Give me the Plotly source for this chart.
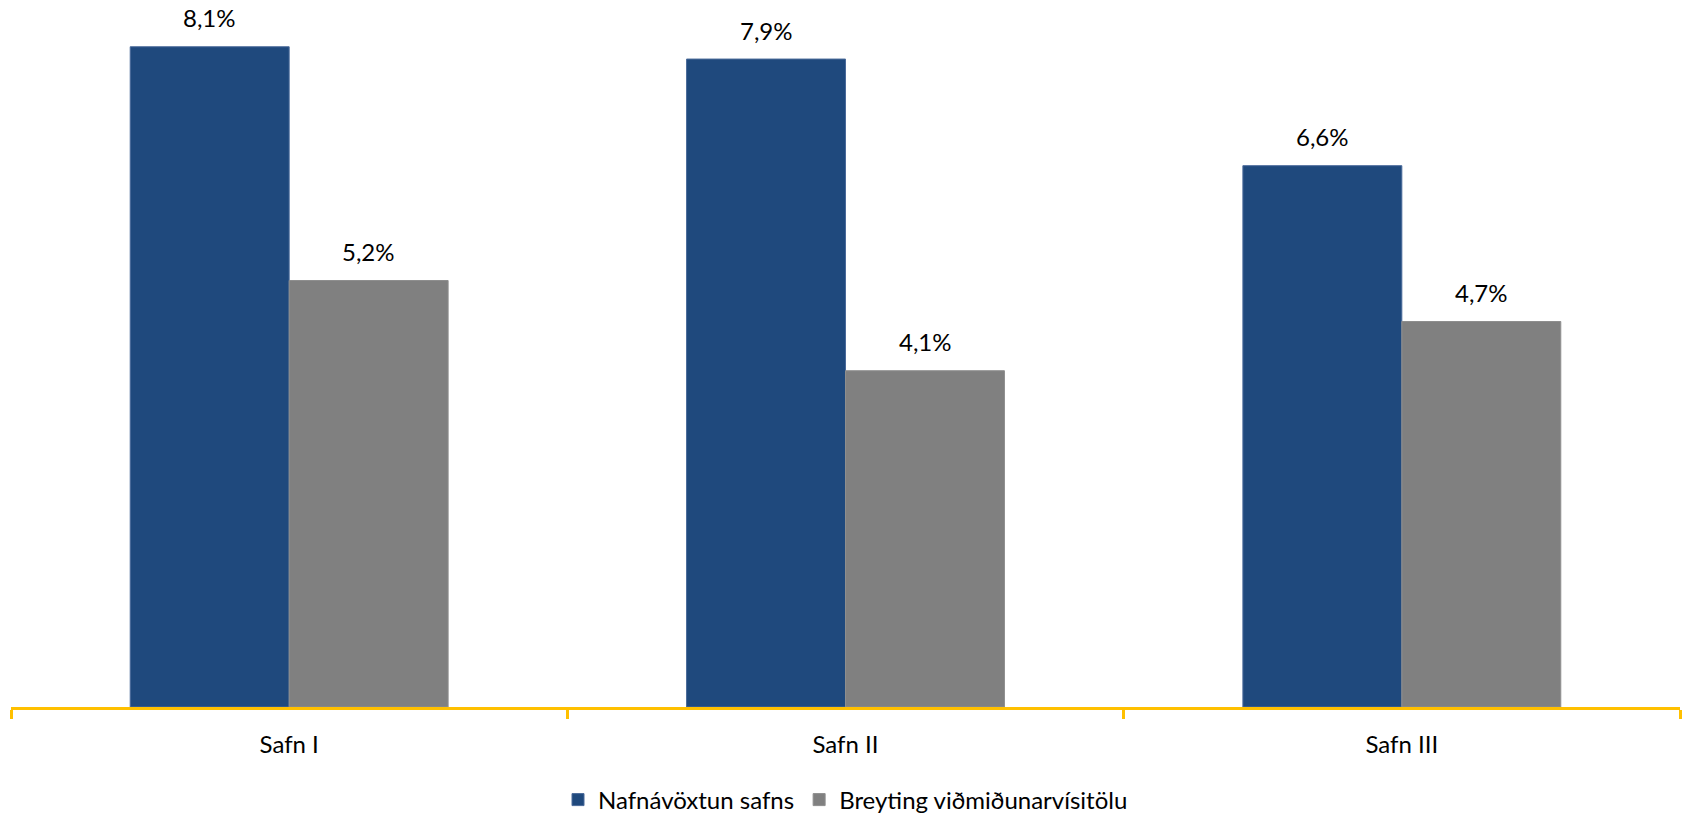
import plotly.graph_objects as go

categories = ["Safn I", "Safn II", "Safn III"]
nafnavoxtun = [8.05, 7.9, 6.6]
breyting = [5.2, 4.1, 4.7]
series_names = ["Nafnávöxtun safns", "Breyting viðmiðunarvísitölu"]

FONT = "Lato"
BLUE = "#1F497D"
GREY = "#808080"
GOLD = "#FFC000"

fig = go.Figure()
fig.add_trace(go.Bar(x=categories, y=nafnavoxtun, name=series_names[0],
                     marker=dict(color=BLUE, line=dict(color="#4A6A9A", width=1))))
fig.add_trace(go.Bar(x=categories, y=breyting, name=series_names[1],
                     marker=dict(color=GREY, line=dict(color="#8E8E8E", width=1))))

def fmt(v):
    return f"{round(v + 1e-9, 1):.1f}".replace(".", ",") + "%"

for c, v in zip(categories, nafnavoxtun):
    fig.add_annotation(x=c, y=v, text=fmt(v), showarrow=False, xshift=-79.5,
                       yshift=29, font=dict(family=FONT, size=24, color="#000"))
for c, v in zip(categories, breyting):
    fig.add_annotation(x=c, y=v, text=fmt(v), showarrow=False, xshift=79.5,
                       yshift=29, font=dict(family=FONT, size=24, color="#000"))

fig.update_layout(
    width=1685, height=813,
    margin=dict(l=11, r=5, t=0, b=106, autoexpand=False),
    paper_bgcolor="white", plot_bgcolor="white",
    barmode="group", bargap=1.5/3.5, bargroupgap=0,
    font=dict(family=FONT, size=24, color="#000"),
    showlegend=True,
    legend=dict(orientation="h", x=0.5, xanchor="center", yref="container",
                y=(813 - 800) / 813, yanchor="middle",
                font=dict(family=FONT, size=24), traceorder="normal"),
)
fig.update_xaxes(showline=True, linecolor=GOLD, linewidth=3, ticks="outside",
                 tickson="boundaries", ticklen=9, tickwidth=3, tickcolor=GOLD,
                 showgrid=False, tickfont=dict(family=FONT, size=24), ticklabelstandoff=14)
fig.update_yaxes(range=[0, 8.62], visible=False, showgrid=False, zeroline=False)

fig.write_html("out.html", config={"displayModeBar": False},
               post_script="document.body.style.margin='0';document.body.style.overflow='hidden';")
